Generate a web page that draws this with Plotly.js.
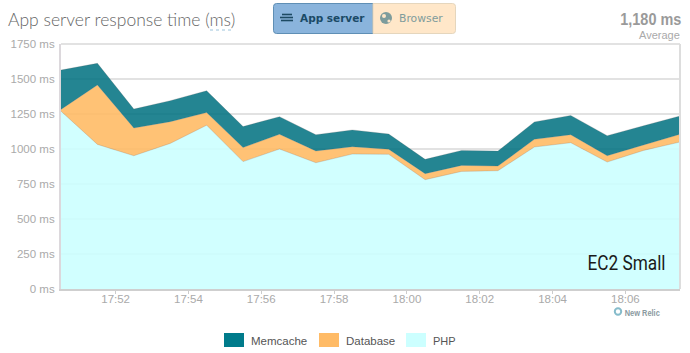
<!DOCTYPE html>
<html>
<head>
<meta charset="utf-8">
<script src="https://cdn.plot.ly/plotly-3.0.1.min.js"></script>
<style>html,body{margin:0;padding:0;background:#fff;overflow:hidden}#c{width:690px;height:353px}</style>
</head>
<body>
<div id="c"></div>
<script>
var times = ["17:50:30","17:51:30","17:52:30","17:53:30","17:54:30","17:55:30","17:56:30","17:57:30","17:58:30","17:59:30","18:00:30","18:01:30","18:02:30","18:03:30","18:04:30","18:05:30","18:06:30","18:07:30"];
var php =      [1270,1033,952,1040,1170,910,1000,902,964,962,781,840,845,1014,1045,907,990,1050];
var database = [13,424,198,155,90,100,105,84,52,36,43,43,33,55,57,45,39,55];
var memcache = [281,155,135,150,156,150,126,116,120,109,102,107,107,124,138,143,137,131];
var yTicks = [0,250,500,750,1000,1250,1500,1750];
var yTickLabels = ["0 ms","250 ms","500 ms","750 ms","1000 ms","1250 ms","1500 ms","1750 ms"];

var W=690,H=353,L=61,R=680,T=44,B=289;
function px(x){return (x-L)/(R-L);}
function py(y){return (B-y)/(B-T);}
var dates = times.map(function(t){return "2014-01-01 "+t;});
function trace(name,y,fill){
  return {type:"scatter",mode:"lines",name:name,x:dates,y:y,stackgroup:"one",
    line:{color:"rgba(90,90,90,0.3)",width:0.7,shape:"linear"},fillcolor:fill,hoverinfo:"x+y+name"};
}
var traces=[trace("PHP",php,"rgba(204,255,255,0.9)"),
            trace("Database",database,"rgba(255,187,102,0.9)"),
            trace("Memcache",memcache,"rgba(0,113,128,0.86)")];

function roundL(x0,y0,x1,y1,r){return "M"+px(x1)+","+py(y0)+" L"+px(x0+r)+","+py(y0)+" Q"+px(x0)+","+py(y0)+" "+px(x0)+","+py(y0+r)+" L"+px(x0)+","+py(y1-r)+" Q"+px(x0)+","+py(y1)+" "+px(x0+r)+","+py(y1)+" L"+px(x1)+","+py(y1)+" Z";}
function roundR(x0,y0,x1,y1,r){return "M"+px(x0)+","+py(y0)+" L"+px(x1-r)+","+py(y0)+" Q"+px(x1)+","+py(y0)+" "+px(x1)+","+py(y0+r)+" L"+px(x1)+","+py(y1-r)+" Q"+px(x1)+","+py(y1)+" "+px(x1-r)+","+py(y1)+" L"+px(x0)+","+py(y1)+" Z";}
function rect(x0,y0,x1,y1,c){return {type:"rect",xref:"paper",yref:"paper",x0:px(x0),x1:px(x1),y0:py(y0),y1:py(y1),fillcolor:c,line:{color:c,width:0},layer:"above"};}
function line(x0,y0,x1,y1,c,w,d){return {type:"line",xref:"paper",yref:"paper",x0:px(x0),x1:px(x1),y0:py(y0),y1:py(y1),line:{color:c,width:w,dash:d||"solid"},layer:"above"};}
function circ(cx,cy,r,fill,lc,lw){return {type:"circle",xref:"paper",yref:"paper",x0:px(cx-r),x1:px(cx+r),y0:py(cy-r),y1:py(cy+r),fillcolor:fill,line:{color:lc||fill,width:lw||0},layer:"above"};}
function path(d,c,lc){return {type:"path",xref:"paper",yref:"paper",path:d,fillcolor:c,line:{color:lc,width:1},layer:"above"};}

var shapes=[
  path(roundL(273.5,3.5,373,33.5,3),"#8ab4dc","#5f8fb5"),
  path(roundR(373,3.5,455.5,33.5,3),"#ffe7c9","#e5d6bd"),
  line(282,14.5,292,14.5,"#1d4a63",1.6),
  line(280,17.5,293,17.5,"#1d4a63",1.6),
  line(281,20.5,293,20.5,"#1d4a63",1.6),
  circ(386,18,6,"#7d9c9c"),
  circ(384,16,2,"#ffe7c9"),
  circ(389,21,1.6,"#ffe7c9"),
  line(210,30,233,30,"#9cc4dc",1,"dot"),
  line(61,44,680,44,"#e2e2e2",2),
  line(680,44,680,289,"#dddddd",2),
  rect(224,333,244,347,"#007b8b"),
  rect(319,333,339,347,"#ffbb66"),
  rect(406,333,426,347,"#ccffff"),
  circ(618,311.5,3.2,"rgba(255,255,255,0)","#86bccb",2)
];
function ann(text,x,y,size,color,anchor,family,weight){
  return {text:text,xref:"paper",yref:"paper",x:px(x),y:py(y),xanchor:anchor||"left",yanchor:"middle",showarrow:false,borderpad:0,
    font:{size:size,color:color,family:family||"Liberation Sans",weight:weight||400}};
}
var annotations=[
  ann("App server",299,18,10.5,"#1a4a66","left","DejaVu Sans",700),
  ann("Browser",398,18,10.8,"#7f9c9c","left","DejaVu Sans"),
  ann("1,180 ms",650.5,19,16,"#9a9a9a","center","Liberation Sans",700),
  ann("Average",681,35,11,"#aaaaaa","right"),
  ann("EC2 Small",626,263,21,"#1a1a1a","center","Roboto"),
  ann("New Relic",642.5,312.5,9,"#8a9aa0","center","Liberation Sans",700),
  ann("Memcache",250,341,11.5,"#555555"),
  ann("Database",345,341,11.5,"#555555"),
  ann("PHP",432,341,11,"#555555")
];
var layout={
  width:W,height:H,margin:{l:L,r:W-R,t:T,b:H-B,pad:0},
  paper_bgcolor:"#fff",plot_bgcolor:"#fff",showlegend:false,
  title:{text:"App server response time (ms)",x:8/W,xanchor:"left",xref:"container",y:1-20/H,yanchor:"middle",
    font:{family:"Lato",size:17.5,color:"#666666",weight:300}},
  xaxis:{type:"date",range:[dates[0],dates[dates.length-1]],tickformat:"%H:%M",dtick:120000,tick0:"2014-01-01 17:52:00",
    ticks:"outside",ticklen:3,tickwidth:1,tickcolor:"#cccccc",showgrid:false,zeroline:false,ticklabelstandoff:-5,
    showline:true,linecolor:"#cfcfcf",linewidth:2,tickfont:{family:"Liberation Sans",size:11.5,color:"#aaaaaa"}},
  yaxis:{range:[0,1750],tickmode:"array",tickvals:yTicks,ticktext:yTickLabels,ticks:"",showgrid:true,gridcolor:"#e2e2e2",gridwidth:2,
    zeroline:false,showline:true,linecolor:"#dcd8dc",linewidth:2,automargin:false,ticklabelstandoff:2,
    tickfont:{family:"Liberation Sans",size:11.5,color:"#aaaaaa"}},
  shapes:shapes,annotations:annotations
};
var fits={"EC2 Small":78,"New Relic":35,"1,180 ms":61};
Plotly.newPlot("c",traces,layout,{displayModeBar:false,responsive:false}).then(function(){
  document.querySelectorAll("#c .annotation-text").forEach(function(el){
    var n=fits[el.textContent];
    if(n){el.setAttribute("textLength",n);el.setAttribute("lengthAdjust","spacingAndGlyphs");}
  });
});
</script>
</body>
</html>
